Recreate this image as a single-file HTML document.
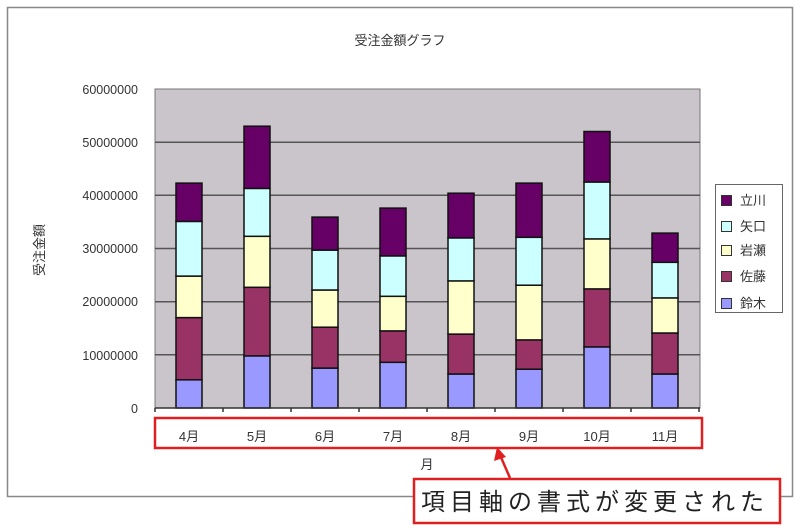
<!DOCTYPE html>
<html><head><meta charset="utf-8"><style>body{margin:0;background:#fff}svg{display:block}text{font-family:"Liberation Sans","Noto Sans CJK JP",sans-serif}</style></head><body>
<svg width="800" height="532" xmlns="http://www.w3.org/2000/svg">
<rect x="0" y="0" width="800" height="532" fill="#fff"/>
<rect x="7.5" y="7.5" width="785" height="489" fill="#fff" stroke="#888" stroke-width="1.5"/>
<text x="400" y="45" font-size="13" text-anchor="middle" fill="#333">受注金額グラフ</text>
<rect x="155" y="89" width="545" height="319" fill="#c9c5cb" stroke="#777"/>
<g stroke="#555" stroke-width="1.5">
<line x1="155" x2="700" y1="142.2" y2="142.2"/><line x1="155" x2="700" y1="195.3" y2="195.3"/><line x1="155" x2="700" y1="248.5" y2="248.5"/><line x1="155" x2="700" y1="301.7" y2="301.7"/><line x1="155" x2="700" y1="354.8" y2="354.8"/>
</g>
<g font-size="12.5" fill="#333" text-anchor="end">
<text x="138" y="94">60000000</text><text x="138" y="147">50000000</text><text x="138" y="200">40000000</text><text x="138" y="253">30000000</text><text x="138" y="306">20000000</text><text x="138" y="360">10000000</text><text x="138" y="413">0</text>
</g>
<text transform="translate(44,250) rotate(-90)" font-size="13" text-anchor="middle" fill="#333">受注金額</text>
<g stroke="#111" stroke-width="1.5">
<rect x="176" y="379.8" width="26" height="28.2" fill="#9999ff"/><rect x="176" y="317.6" width="26" height="62.2" fill="#993366"/><rect x="176" y="276.1" width="26" height="41.5" fill="#ffffcc"/><rect x="176" y="221.4" width="26" height="54.7" fill="#ccffff"/><rect x="176" y="183.1" width="26" height="38.3" fill="#660066"/>
<rect x="244" y="355.9" width="26" height="52.1" fill="#9999ff"/><rect x="244" y="287.3" width="26" height="68.6" fill="#993366"/><rect x="244" y="236.3" width="26" height="51" fill="#ffffcc"/><rect x="244" y="188.4" width="26" height="47.9" fill="#ccffff"/><rect x="244" y="126.2" width="26" height="62.2" fill="#660066"/>
<rect x="312" y="368.1" width="26" height="39.9" fill="#9999ff"/><rect x="312" y="327.2" width="26" height="40.9" fill="#993366"/><rect x="312" y="290" width="26" height="37.2" fill="#ffffcc"/><rect x="312" y="250.1" width="26" height="39.9" fill="#ccffff"/><rect x="312" y="217.1" width="26" height="33" fill="#660066"/>
<rect x="380" y="362.3" width="26" height="45.7" fill="#9999ff"/><rect x="380" y="330.9" width="26" height="31.4" fill="#993366"/><rect x="380" y="296.3" width="26" height="34.6" fill="#ffffcc"/><rect x="380" y="255.9" width="26" height="40.4" fill="#ccffff"/><rect x="380" y="208.1" width="26" height="47.8" fill="#660066"/>
<rect x="448" y="374" width="26" height="34" fill="#9999ff"/><rect x="448" y="334.1" width="26" height="39.9" fill="#993366"/><rect x="448" y="280.9" width="26" height="53.2" fill="#ffffcc"/><rect x="448" y="237.9" width="26" height="43" fill="#ccffff"/><rect x="448" y="193.2" width="26" height="44.7" fill="#660066"/>
<rect x="516" y="369.2" width="26" height="38.8" fill="#9999ff"/><rect x="516" y="339.9" width="26" height="29.3" fill="#993366"/><rect x="516" y="285.2" width="26" height="54.7" fill="#ffffcc"/><rect x="516" y="237.3" width="26" height="47.9" fill="#ccffff"/><rect x="516" y="183.1" width="26" height="54.2" fill="#660066"/>
<rect x="584" y="346.9" width="26" height="61.1" fill="#9999ff"/><rect x="584" y="288.9" width="26" height="58" fill="#993366"/><rect x="584" y="238.9" width="26" height="50" fill="#ffffcc"/><rect x="584" y="182" width="26" height="56.9" fill="#ccffff"/><rect x="584" y="131.5" width="26" height="50.5" fill="#660066"/>
<rect x="652" y="374" width="26" height="34" fill="#9999ff"/><rect x="652" y="333" width="26" height="41" fill="#993366"/><rect x="652" y="297.9" width="26" height="35.1" fill="#ffffcc"/><rect x="652" y="262.3" width="26" height="35.6" fill="#ccffff"/><rect x="652" y="233.1" width="26" height="29.2" fill="#660066"/>
</g>
<line x1="155" x2="700" y1="408" y2="408" stroke="#333" stroke-width="1.5"/>
<g stroke="#333" stroke-width="1.5">
<line x1="155" x2="155" y1="408" y2="412"/><line x1="223" x2="223" y1="408" y2="412"/><line x1="291" x2="291" y1="408" y2="412"/><line x1="359" x2="359" y1="408" y2="412"/><line x1="427" x2="427" y1="408" y2="412"/><line x1="495" x2="495" y1="408" y2="412"/><line x1="563" x2="563" y1="408" y2="412"/><line x1="631" x2="631" y1="408" y2="412"/><line x1="699" x2="699" y1="408" y2="412"/>
</g>
<g font-size="13" fill="#333" text-anchor="middle">
<text x="189" y="441">4月</text><text x="257" y="441">5月</text><text x="325" y="441">6月</text><text x="393" y="441">7月</text><text x="461" y="441">8月</text><text x="529" y="441">9月</text><text x="597" y="441">10月</text><text x="665" y="441">11月</text>
<text x="427" y="469">月</text>
</g>
<rect x="155" y="418" width="547" height="30" fill="none" stroke="#e02020" stroke-width="2.5"/>
<line x1="510" y1="478" x2="500" y2="455" stroke="#e02020" stroke-width="2.5"/>
<polygon points="497,447 494,461 506,457" fill="#e02020"/>
<rect x="414" y="479" width="366" height="44" fill="#fff" stroke="#e02020" stroke-width="2.5"/>
<text x="421" y="510" font-size="24" fill="#222" letter-spacing="5">項目軸の書式が変更された</text>
<rect x="715.5" y="184.5" width="67" height="128" fill="#fff" stroke="#666"/>
<g stroke="#333" stroke-width="1">
<rect x="721.5" y="195.5" width="10" height="10" fill="#660066"/>
<rect x="721.5" y="221.5" width="10" height="10" fill="#ccffff"/>
<rect x="721.5" y="245.5" width="10" height="10" fill="#ffffcc"/>
<rect x="721.5" y="271.5" width="10" height="10" fill="#993366"/>
<rect x="721.5" y="298.5" width="10" height="10" fill="#9999ff"/>
</g>
<g font-size="13" fill="#333">
<text x="740" y="205">立川</text><text x="740" y="231">矢口</text><text x="740" y="255">岩瀬</text><text x="740" y="281">佐藤</text><text x="740" y="308">鈴木</text>
</g>
</svg>
</body></html>
